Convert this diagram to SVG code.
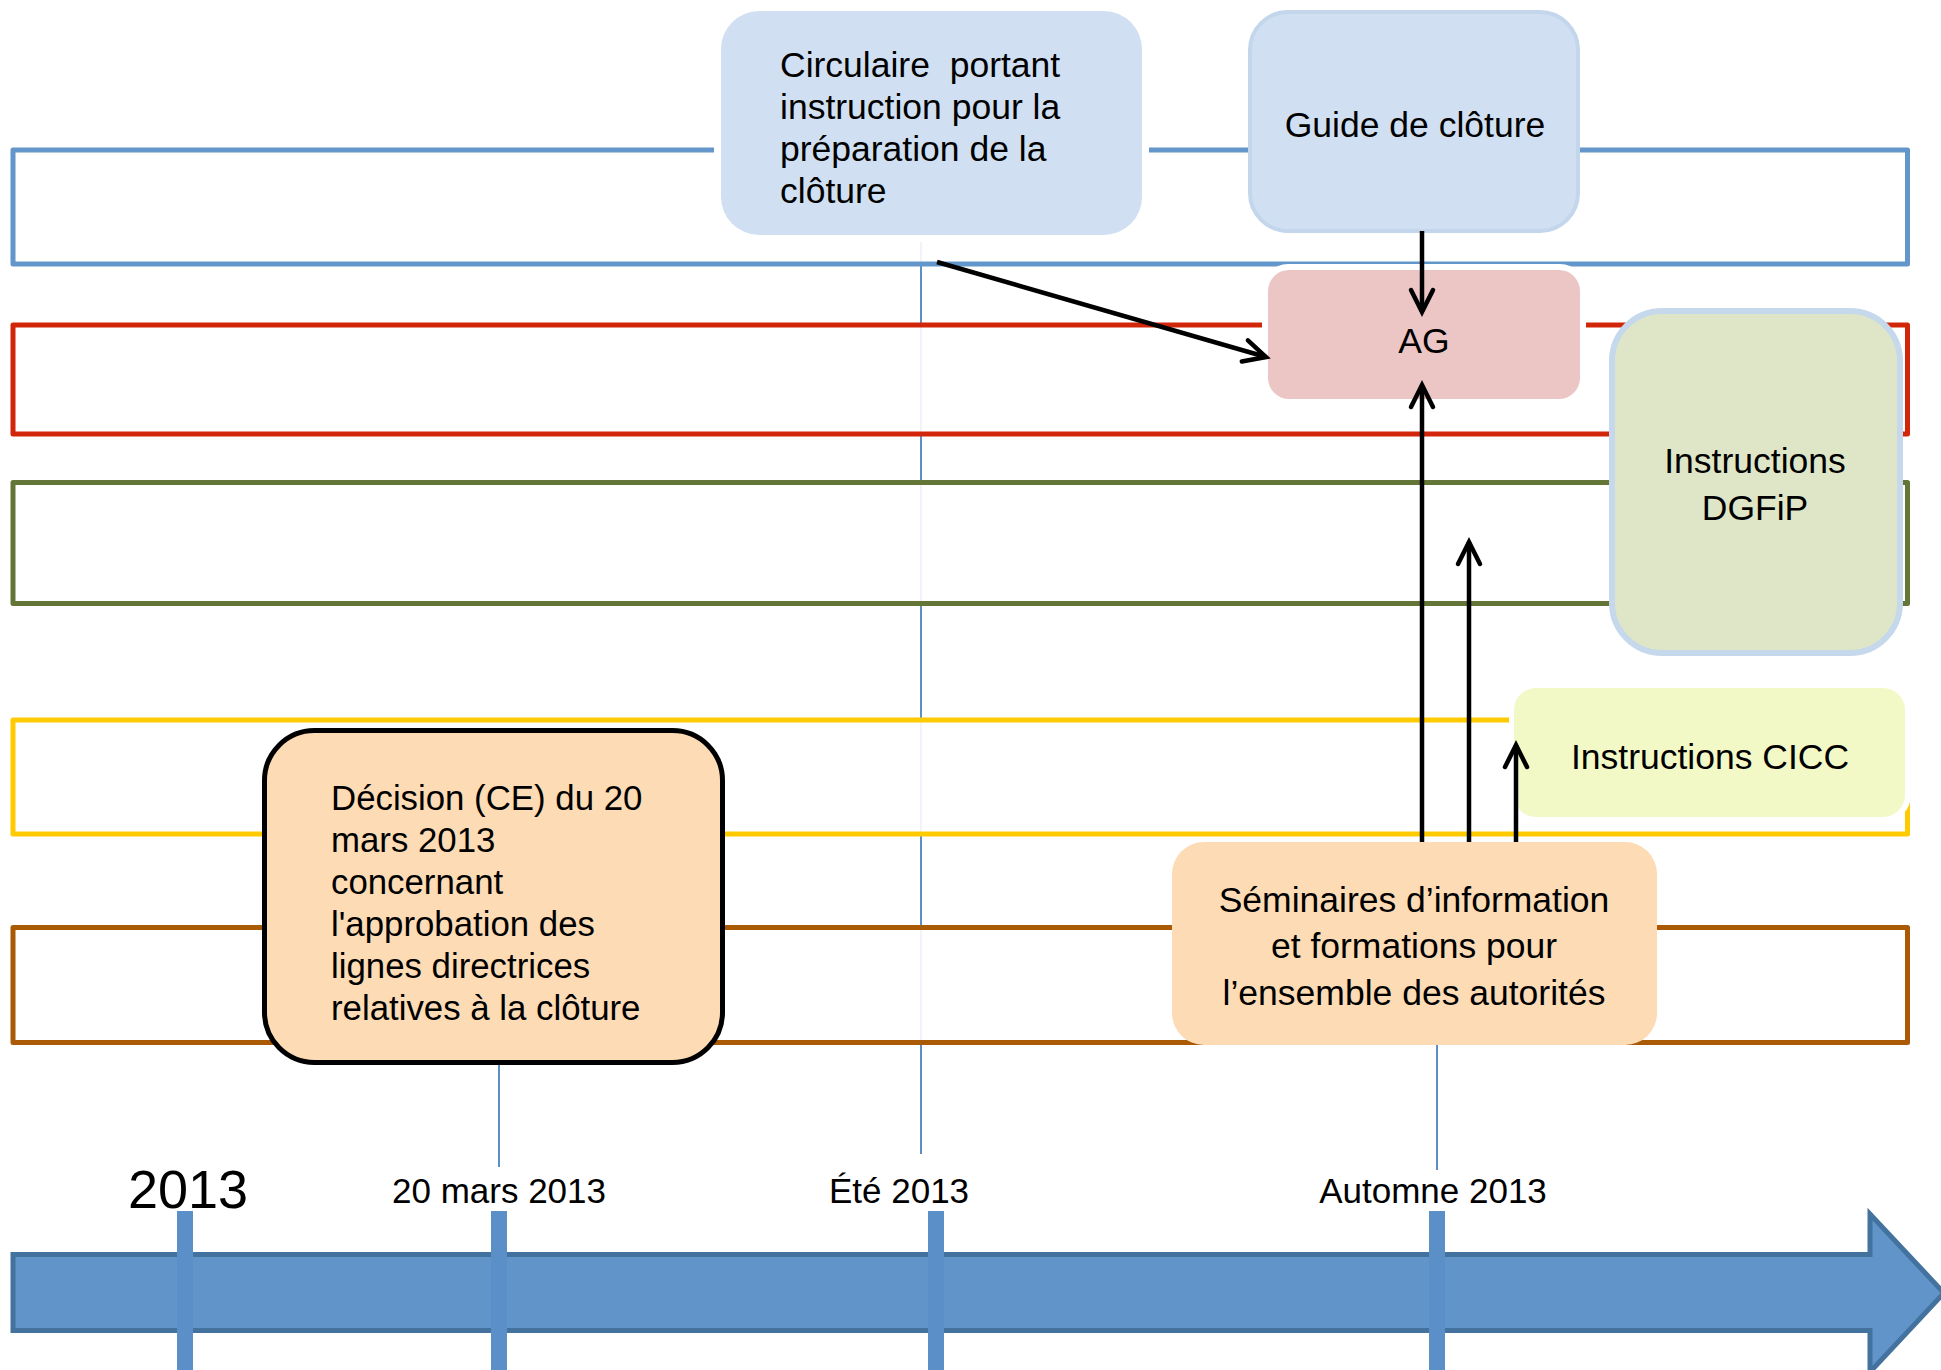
<svg xmlns="http://www.w3.org/2000/svg" width="1941" height="1370" viewBox="0 0 1941 1370">
<style>
  text { font-family: "Liberation Sans", Arial, sans-serif; fill: #000; }
  .nt { font-size: 35.5px; }
  .nd { font-size: 34.8px; }
  .c { text-anchor: middle; }
  .lane { fill: #fff; fill-opacity: 0.9; stroke-width: 5; stroke-linejoin: round; }
  .guide { stroke: #5B8FC8; stroke-width: 2; fill: none; }
  .tick { fill: #5B8FC8; }
  .halo { fill: #fff; }
  .conn { stroke: #000; stroke-width: 4.5; fill: none; }
  .tl { font-size: 35px; text-anchor: middle; }
</style>
<defs>
  <marker id="ah" markerUnits="userSpaceOnUse" markerWidth="40" markerHeight="40" viewBox="-30 -20 40 40" refX="0" refY="0" orient="auto">
    <path d="M-22,-11 L0,0 L-22,11" fill="none" stroke="#000" stroke-width="4.5" stroke-linecap="round" stroke-linejoin="miter"/>
  </marker>
</defs>

<g id="guides">
  <line class="guide" x1="921" y1="230" x2="921" y2="1154"/>
  <line class="guide" x1="499" y1="1060" x2="499" y2="1167"/>
  <line class="guide" x1="1437" y1="1040" x2="1437" y2="1170"/>
</g>

<g id="lanes">
  <rect id="lane-blue" class="lane" x="13" y="150" width="1894.5" height="114" stroke="#6396CA"/>
  <rect id="lane-red" class="lane" x="13" y="325" width="1894.5" height="109" stroke="#D2260A"/>
  <rect id="lane-green" class="lane" x="13" y="482.5" width="1894.5" height="121" stroke="#647637"/>
  <rect id="lane-yellow" class="lane" x="13" y="720" width="1894.5" height="114" stroke="#FFCA00"/>
  <rect id="lane-brown" class="lane" x="13" y="927.5" width="1894.5" height="115" stroke="#AA5A05"/>
</g>

<g id="timeline">
  <path d="M13,1254.5 H1870 V1214 L1944,1293 L1870,1372 V1330.5 H13 Z" fill="#6195C9" stroke="#44729E" stroke-width="5" stroke-linejoin="miter"/>
  <rect class="tick" x="177" y="1211" width="16" height="159"/>
  <rect class="tick" x="491" y="1211" width="16" height="159"/>
  <rect class="tick" x="928" y="1211" width="16" height="159"/>
  <rect class="tick" x="1429" y="1211" width="16" height="159"/>
  <text x="188" y="1208" font-size="54" text-anchor="middle">2013</text>
  <text class="tl" x="499" y="1203">20 mars 2013</text>
  <text class="tl" x="899" y="1203">Été 2013</text>
  <text class="tl" x="1433" y="1203">Automne 2013</text>
</g>

<g id="node-circulaire">
  <rect class="halo" x="714" y="4" width="435" height="238" rx="44"/>
  <rect x="721" y="11" width="421" height="224" rx="38" fill="#D0E0F2"/>
  <text class="nt" x="780" y="77" xml:space="preserve">Circulaire  portant</text>
  <text class="nt" x="780" y="119">instruction pour la</text>
  <text class="nt" x="780" y="161">préparation de la</text>
  <text class="nt" x="780" y="203">clôture</text>
</g>

<g id="node-guide">
  <rect x="1250" y="12" width="328" height="219" rx="38" fill="#D0E0F2" stroke="#C3D6EB" stroke-width="4"/>
  <text class="nt c" x="1415" y="137">Guide de clôture</text>
</g>

<g id="node-ag">
  <rect class="halo" x="1262" y="264" width="324" height="141" rx="26"/>
  <rect x="1268" y="270" width="312" height="129" rx="21" fill="#EBC6C5"/>
  <text class="nt c" x="1424" y="353">AG</text>
</g>

<g id="node-dgfip">
  <rect x="1612" y="311" width="288" height="342" rx="50" fill="#DEE6C7" stroke="#C5D8EC" stroke-width="6"/>
  <text class="nt c" x="1755" y="473">Instructions</text>
  <text class="nt c" x="1755" y="520">DGFiP</text>
</g>

<g id="node-cicc">
  <rect class="halo" x="1509" y="683" width="402" height="139" rx="27"/>
  <rect x="1514" y="688" width="391" height="129" rx="22" fill="#F3F8C7"/>
  <text class="nt c" x="1710" y="769">Instructions CICC</text>
</g>

<g id="node-decision">
  <rect x="264.5" y="730.5" width="458" height="332" rx="50" fill="#FDDBB5" stroke="#000" stroke-width="5"/>
  <text class="nd" x="331" y="810">Décision (CE) du 20</text>
  <text class="nd" x="331" y="852">mars 2013</text>
  <text class="nd" x="331" y="894">concernant</text>
  <text class="nd" x="331" y="936">l'approbation des</text>
  <text class="nd" x="331" y="978">lignes directrices</text>
  <text class="nd" x="331" y="1020">relatives à la clôture</text>
</g>

<g id="node-seminaires">
  <rect x="1172" y="842" width="485" height="203" rx="32" fill="#FDDBB5"/>
  <text class="nt c" x="1414" y="912">Séminaires d’information</text>
  <text class="nt c" x="1414" y="958">et formations pour</text>
  <text class="nt c" x="1414" y="1005">l’ensemble des autorités</text>
</g>

<g id="connectors">
  <line class="conn" x1="937" y1="262" x2="1266" y2="357" marker-end="url(#ah)"/>
  <line class="conn" x1="1422" y1="231" x2="1422" y2="312" marker-end="url(#ah)"/>
  <line class="conn" x1="1422" y1="842" x2="1422" y2="385" marker-end="url(#ah)"/>
  <line class="conn" x1="1469" y1="842" x2="1469" y2="542" marker-end="url(#ah)"/>
  <line class="conn" x1="1516" y1="842" x2="1516" y2="745" marker-end="url(#ah)"/>
</g>
</svg>
